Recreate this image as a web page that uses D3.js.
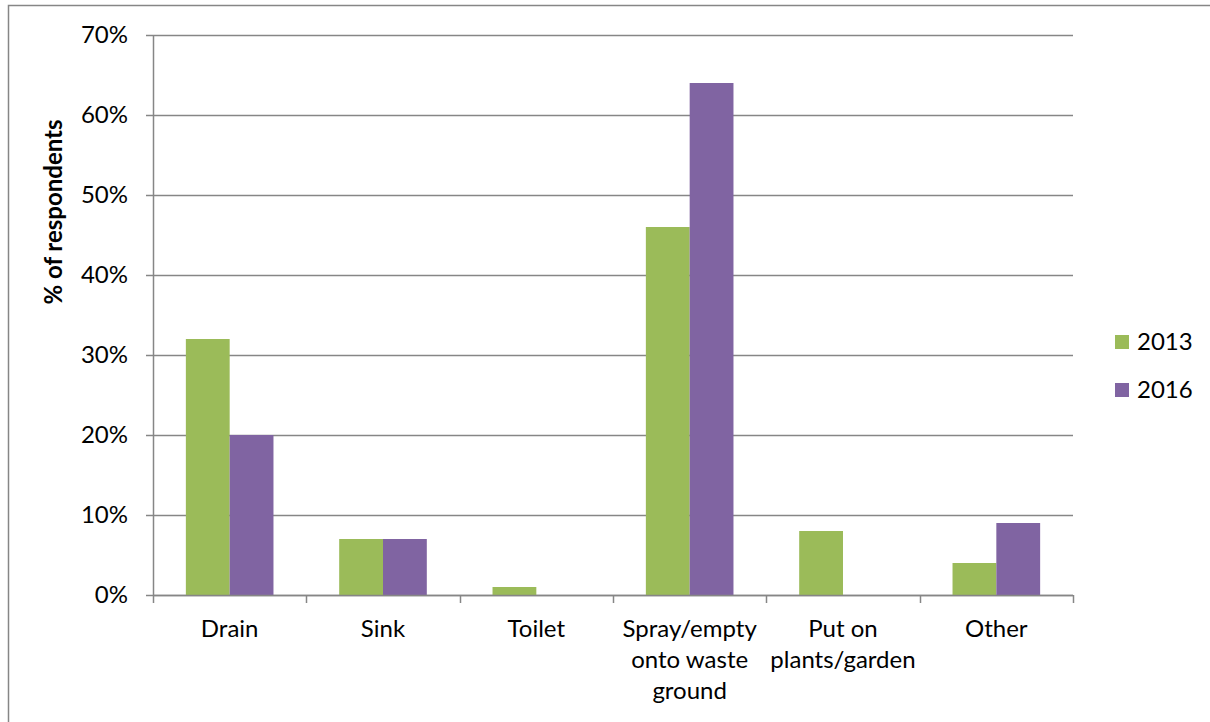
<!DOCTYPE html>
<html>
<head>
<meta charset="utf-8">
<script src="https://cdn.jsdelivr.net/npm/d3@7/dist/d3.min.js"></script>
<style>
  html, body { margin: 0; padding: 0; background: #fff; }
  svg text { font-family: Lato, "Open Sans", sans-serif; fill: #000; }
</style>
</head>
<body>
<svg id="chart" width="1210" height="722"></svg>
<script>
// Disposal method of leftover product, share of respondents by survey year
const categories = ["Drain", "Sink", "Toilet", "Spray/empty onto waste ground", "Put on plants/garden", "Other"];
const categoryLines = [["Drain"], ["Sink"], ["Toilet"], ["Spray/empty", "onto waste", "ground"], ["Put on", "plants/garden"], ["Other"]];
const seriesNames = ["2013", "2016"];
const values2013 = [32, 7, 1, 46, 8, 4];
const values2016 = [20, 7, 0, 64, 0, 9];
const yTicks = [0, 10, 20, 30, 40, 50, 60, 70];
const colors = ["#9BBB59", "#8064A2"];

const svg = d3.select("#chart");
const margin = { left: 153, right: 1073, top: 35, bottom: 595 };

// outer chart border
svg.append("rect")
  .attr("x", 8.5).attr("y", 5.5)
  .attr("width", 1210).attr("height", 730)
  .attr("fill", "none").attr("stroke", "#868686").attr("stroke-width", 1.5);

const x0 = d3.scaleBand().domain(categories).range([margin.left, margin.right]).paddingInner(0).paddingOuter(0);
// gap width of 150% between groups
const groupW = x0.bandwidth() * 2 / 3.5;
const x1 = d3.scaleBand().domain(seriesNames).range([0, groupW]).padding(0);
const y = d3.scaleLinear().domain([0, 70]).range([margin.bottom, margin.top]);

// horizontal gridlines with outward ticks
const grid = svg.append("g");
grid.selectAll("line").data(yTicks).join("line")
  .attr("x1", margin.left - 7).attr("x2", margin.right)
  .attr("y1", d => Math.round(y(d)) + 0.5).attr("y2", d => Math.round(y(d)) + 0.5)
  .attr("stroke", "#868686").attr("stroke-width", 1.5);

// y axis labels
svg.append("g").selectAll("text").data(yTicks).join("text")
  .attr("x", 128).attr("y", d => y(d) + 8)
  .attr("text-anchor", "end")
  .attr("font-size", 24)
  .text(d => d + "%");

// bars
const series = [values2013, values2016];
seriesNames.forEach((name, si) => {
  svg.append("g").selectAll("rect").data(categories).join("rect")
    .attr("x", (c) => x0(c) + (x0.bandwidth() - groupW) / 2 + x1(name))
    .attr("width", x1.bandwidth())
    .attr("y", (c, i) => y(series[si][i]))
    .attr("height", (c, i) => y(0) - y(series[si][i]))
    .attr("fill", colors[si]);
});

// y axis line
svg.append("line")
  .attr("x1", margin.left + 0.5).attr("x2", margin.left + 0.5)
  .attr("y1", margin.top).attr("y2", margin.bottom)
  .attr("stroke", "#868686").attr("stroke-width", 1.5);

// x axis line and category boundary ticks
svg.append("line")
  .attr("x1", margin.left).attr("x2", margin.right)
  .attr("y1", margin.bottom + 0.5).attr("y2", margin.bottom + 0.5)
  .attr("stroke", "#868686").attr("stroke-width", 1.5);
const bounds = categories.map(c => x0(c)).concat([margin.right]);
svg.append("g").selectAll("line").data(bounds).join("line")
  .attr("x1", d => Math.round(d) + 0.5).attr("x2", d => Math.round(d) + 0.5)
  .attr("y1", margin.bottom).attr("y2", margin.bottom + 8)
  .attr("stroke", "#868686").attr("stroke-width", 1.5);

// category labels
const catG = svg.append("g");
categories.forEach((c, i) => {
  const t = catG.append("text")
    .attr("x", x0(c) + x0.bandwidth() / 2)
    .attr("y", 637)
    .attr("text-anchor", "middle")
    .attr("font-size", 24);
  categoryLines[i].forEach((line, li) => {
    t.append("tspan")
      .attr("x", x0(c) + x0.bandwidth() / 2)
      .attr("dy", li === 0 ? 0 : 31)
      .text(line);
  });
});

// y axis title
svg.append("text")
  .attr("transform", "translate(62,212) rotate(-90)")
  .attr("text-anchor", "middle")
  .attr("font-size", 24)
  .attr("font-weight", "bold")
  .text("% of respondents");

// legend
const legend = svg.append("g");
seriesNames.forEach((name, i) => {
  legend.append("rect")
    .attr("x", 1115).attr("y", 335 + i * 48)
    .attr("width", 14).attr("height", 14)
    .attr("fill", colors[i]);
  legend.append("text")
    .attr("x", 1137).attr("y", 350 + i * 48)
    .attr("font-size", 24)
    .text(name);
});
</script>
</body>
</html>
